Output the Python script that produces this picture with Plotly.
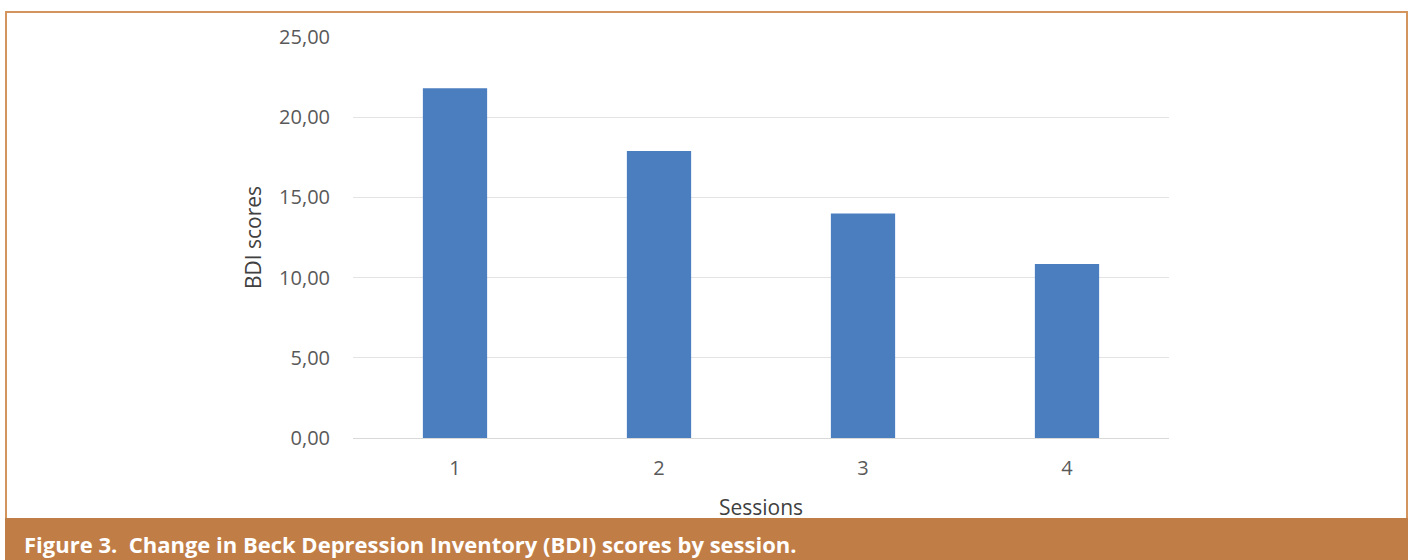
import plotly.graph_objects as go

sessions = ["1", "2", "3", "4"]
bdi_scores = [21.8, 17.9, 14.0, 10.85]
y_ticks = [0, 5, 10, 15, 20, 25]
caption = "Figure 3.  Change in Beck Depression Inventory (BDI) scores by session."

W, H = 1417, 560
PL, PR, PT, PB = 353, 1169, 37, 438  # plot area in pixels

def px_x(p):
    return (p - PL) / (PR - PL)

def px_y(p):
    return (PB - p) / (PB - PT)

fig = go.Figure(go.Bar(
    x=sessions, y=bdi_scores,
    marker=dict(color="#4A7EBF", line=dict(width=0)),
    width=0.315,
))

font_main = "Open Sans, Calibri, Noto Sans, sans-serif"

fig.update_layout(
    width=W, height=H,
    margin=dict(l=PL, r=W - PR, t=PT, b=H - PB, pad=0),
    paper_bgcolor="white", plot_bgcolor="white",
    separators=", ",
    showlegend=False,
    font=dict(family=font_main, color="#595959", size=20),
    xaxis=dict(
        type="category",
        showgrid=False,
        showline=True, linecolor="#D9D9D9", linewidth=1,
        ticks="", ticklabelstandoff=12,
        tickfont=dict(size=20, color="#595959"),
        title=dict(text="Sessions", font=dict(size=21, color="#404040"), standoff=20),
    ),
    yaxis=dict(
        range=[0, 25],
        tickvals=y_ticks,
        tickformat=".2f",
        showgrid=True, gridcolor="#E3E3E3", gridwidth=1,
        zeroline=False, showline=False,
        ticks="", ticklabelstandoff=22,
        tickfont=dict(size=20, color="#595959"),
        title=dict(text="BDI scores", font=dict(size=21, color="#404040"), standoff=11),
    ),
    shapes=[
        dict(type="rect", xref="paper", yref="paper",
             x0=px_x(6), x1=px_x(1407), y0=px_y(560), y1=px_y(12),
             line=dict(color="#D4945E", width=2), fillcolor="rgba(0,0,0,0)", layer="below"),
        dict(type="rect", xref="paper", yref="paper",
             x0=px_x(5), x1=px_x(1408), y0=px_y(561), y1=px_y(518),
             line=dict(width=0), fillcolor="#C17D46", layer="above"),
    ],
    annotations=[
        dict(text="<b>" + caption + "</b>", xref="paper", yref="paper",
             x=px_x(22), y=px_y(544), xanchor="left", yanchor="middle",
             showarrow=False, font=dict(family="Open Sans, Noto Sans, sans-serif", size=22, color="white")),
    ],
)

fig.write_html("out.html")
